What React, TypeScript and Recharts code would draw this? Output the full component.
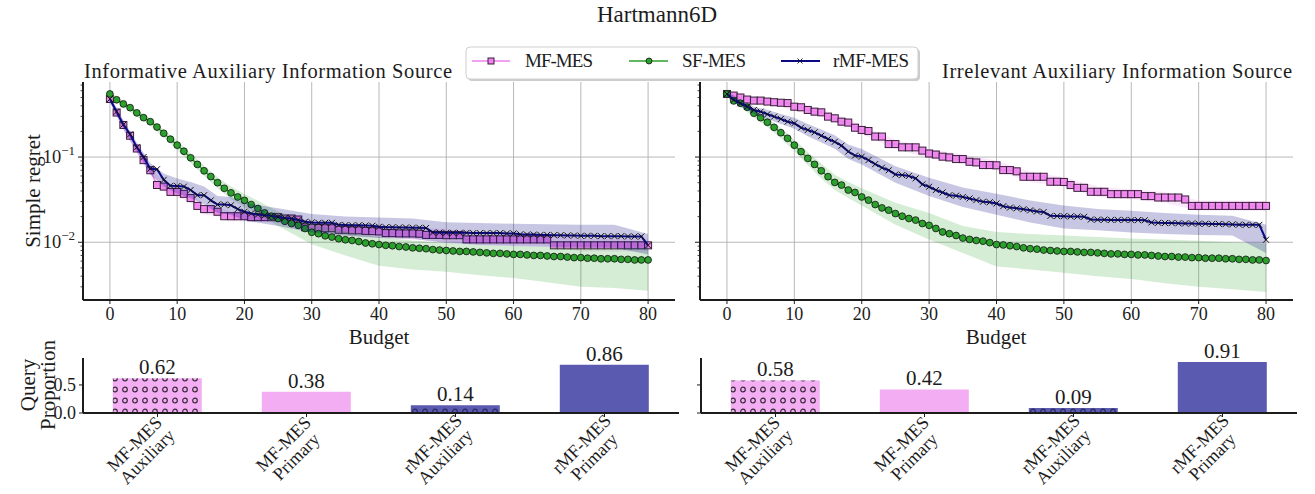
import {
  Area,
  Bar,
  BarChart,
  CartesianGrid,
  Cell,
  ComposedChart,
  LabelList,
  Line,
  XAxis,
  YAxis,
} from "recharts";

const FONT = "'Liberation Serif', 'Times New Roman', serif";
const INK = "#1c1c1c";
const VIOLET = "#ee82ee";
const GREEN = "#2ca02c";
const NAVY = "#0a0a88";
const PINK_BAR = "#f3aef3";
const BLUE_BAR = "#5a5ab0";

// budget steps 0..80
const budget = Array.from({ length: 81 }, (_, i) => i);
const budgetTicks = [0, 10, 20, 30, 40, 50, 60, 70, 80];
const regretTicks = [
  0.003, 0.004, 0.005, 0.006, 0.007, 0.008, 0.009, 0.01,
  0.02, 0.03, 0.04, 0.05, 0.06, 0.07, 0.08, 0.09, 0.1,
  0.2, 0.3, 0.4, 0.5, 0.6, 0.7,
];

// informative auxiliary source
const mfLeft = [
  0.48, 0.333, 0.238, 0.178, 0.126, 0.092, 0.07, 0.047, 0.045, 0.039,
  0.039, 0.037, 0.033, 0.0267, 0.0245, 0.0245, 0.0228, 0.0202, 0.0202, 0.0202,
  0.0202, 0.0197, 0.0197, 0.0197, 0.0197, 0.0197, 0.019, 0.019, 0.0185, 0.015,
  0.0148, 0.0147, 0.0146, 0.0146, 0.014, 0.014, 0.0138, 0.0138, 0.0136, 0.0135,
  0.0134, 0.0128, 0.0128, 0.0127, 0.0127, 0.0127, 0.0126, 0.0122, 0.0122, 0.0122,
  0.0121, 0.0121, 0.0121, 0.0108, 0.0108, 0.0108, 0.0108, 0.0108, 0.0108, 0.0108,
  0.0108, 0.0108, 0.0108, 0.0108, 0.0108, 0.0108, 0.0092, 0.0092, 0.0092, 0.0092,
  0.0092, 0.0092, 0.0092, 0.0092, 0.0092, 0.0092, 0.0092, 0.0092, 0.0092, 0.0092,
  0.0092,
];
const sfLeft = [
  0.55, 0.47, 0.42, 0.38, 0.33, 0.29, 0.26, 0.225, 0.19, 0.162,
  0.138, 0.117, 0.098, 0.082, 0.069, 0.059, 0.05, 0.043, 0.038, 0.034,
  0.031, 0.0277, 0.0249, 0.0221, 0.0202, 0.019, 0.0176, 0.0166, 0.0158, 0.0145,
  0.0131, 0.0126, 0.0119, 0.0115, 0.011, 0.0107, 0.0105, 0.0102, 0.0098, 0.0096,
  0.0094, 0.0092, 0.0091, 0.0089, 0.0088, 0.0086, 0.0085, 0.0084, 0.0082, 0.0081,
  0.008, 0.0079, 0.0078, 0.0078, 0.0077, 0.0076, 0.0075, 0.0074, 0.0074, 0.0073,
  0.0072, 0.0072, 0.0071, 0.007, 0.007, 0.0069, 0.0068, 0.0068, 0.0067, 0.0066,
  0.0066, 0.0065, 0.0065, 0.0064, 0.0064, 0.0064, 0.0063, 0.0063, 0.0062, 0.0062,
  0.0062,
];
const rmfLeft = [
  0.48, 0.34, 0.24, 0.185, 0.13, 0.1, 0.073, 0.072, 0.054, 0.046,
  0.0456, 0.045, 0.041, 0.0357, 0.0357, 0.031, 0.0277, 0.0277, 0.0272, 0.0245,
  0.0228, 0.0218, 0.0211, 0.0207, 0.0204, 0.0198, 0.0193, 0.019, 0.0182, 0.0174,
  0.0171, 0.0169, 0.0169, 0.0169, 0.016, 0.0159, 0.0158, 0.0158, 0.0157, 0.0156,
  0.0152, 0.015, 0.015, 0.0149, 0.0149, 0.0148, 0.0148, 0.0147, 0.013, 0.013,
  0.0129, 0.0129, 0.0129, 0.0129, 0.0128, 0.0128, 0.0128, 0.0128, 0.0128, 0.0127,
  0.0127, 0.0124, 0.0123, 0.0123, 0.0122, 0.0122, 0.0121, 0.0121, 0.012, 0.012,
  0.0119, 0.0119, 0.0119, 0.0118, 0.0118, 0.0118, 0.0118, 0.0117, 0.0117, 0.0117,
  0.0092,
];

// irrelevant auxiliary source
const mfRight = [
  0.55, 0.527, 0.5, 0.473, 0.46, 0.46, 0.448, 0.44, 0.434, 0.43,
  0.39, 0.384, 0.357, 0.341, 0.335, 0.298, 0.285, 0.26, 0.254, 0.221,
  0.208, 0.202, 0.174, 0.174, 0.142, 0.142, 0.13, 0.13, 0.13, 0.119,
  0.11, 0.107, 0.101, 0.099, 0.0947, 0.0947, 0.088, 0.0865, 0.0805, 0.0805,
  0.08, 0.0703, 0.0703, 0.068, 0.0587, 0.0587, 0.0587, 0.0587, 0.0513, 0.0513,
  0.051, 0.0469, 0.0435, 0.0435, 0.0391, 0.0391, 0.0391, 0.0367, 0.0367, 0.0367,
  0.0367, 0.0367, 0.0348, 0.0348, 0.0335, 0.0335, 0.0335, 0.0335, 0.0318, 0.0267,
  0.0267, 0.0267, 0.0267, 0.0267, 0.0267, 0.0267, 0.0267, 0.0267, 0.0267, 0.0267,
  0.0267,
];
const sfRight = [
  0.55, 0.456, 0.428, 0.384, 0.327, 0.29, 0.256, 0.223, 0.193, 0.166,
  0.138, 0.1156, 0.0965, 0.082, 0.069, 0.0588, 0.0504, 0.0469, 0.041, 0.0384,
  0.034, 0.0312, 0.0277, 0.0253, 0.0238, 0.0217, 0.0202, 0.019, 0.0182, 0.0166,
  0.0158, 0.0145, 0.0132, 0.0126, 0.012, 0.0112, 0.0108, 0.0105, 0.0103, 0.0099,
  0.0094, 0.0093, 0.0091, 0.0089, 0.0086, 0.0084, 0.0083, 0.0081, 0.008, 0.0079,
  0.0078, 0.0078, 0.0077, 0.0076, 0.0076, 0.0075, 0.0074, 0.0073, 0.0073, 0.0072,
  0.0072, 0.0071, 0.0071, 0.007, 0.0069, 0.0068, 0.0068, 0.0067, 0.0067, 0.0066,
  0.0066, 0.0065, 0.0065, 0.0065, 0.0064, 0.0064, 0.0063, 0.0063, 0.0062, 0.0062,
  0.0061,
];
const rmfRight = [
  0.55, 0.469, 0.428, 0.39, 0.357, 0.341, 0.318, 0.298, 0.28, 0.26,
  0.249, 0.221, 0.208, 0.195, 0.178, 0.163, 0.151, 0.136, 0.116, 0.104,
  0.101, 0.092, 0.0827, 0.075, 0.07, 0.0625, 0.0614, 0.06, 0.0562, 0.0478,
  0.0448, 0.041, 0.0384, 0.0357, 0.0352, 0.034, 0.0327, 0.0312, 0.0299, 0.0295,
  0.0285, 0.0265, 0.0255, 0.025, 0.0244, 0.0237, 0.023, 0.0226, 0.0204, 0.0203,
  0.0202, 0.0201, 0.02, 0.0199, 0.0185, 0.0184, 0.0184, 0.0183, 0.0183, 0.0183,
  0.0182, 0.0182, 0.0181, 0.0171, 0.0169, 0.0168, 0.0168, 0.0167, 0.0166, 0.0166,
  0.0165, 0.0165, 0.0164, 0.0164, 0.0163, 0.0162, 0.0161, 0.016, 0.016, 0.016,
  0.0107,
];

// shaded bands, read at these budgets
const bandBudget = [0, 2, 4, 6, 8, 10, 12, 14, 16, 18, 20, 25, 30, 35, 40, 45, 50, 55, 60, 65, 70, 75, 80];

const mfLeftLo = [0.44, 0.21, 0.11, 0.062, 0.039, 0.034, 0.029, 0.021, 0.02, 0.0175, 0.0175, 0.017, 0.0125, 0.0118, 0.0113, 0.0107, 0.0102, 0.0092, 0.0092, 0.0091, 0.0078, 0.0078, 0.0078];
const mfLeftHi = [0.52, 0.27, 0.14, 0.078, 0.051, 0.045, 0.038, 0.028, 0.026, 0.023, 0.023, 0.0225, 0.0175, 0.0163, 0.0158, 0.015, 0.0143, 0.0128, 0.0128, 0.0127, 0.011, 0.011, 0.0109];
const sfLeftLo = [0.52, 0.39, 0.3, 0.235, 0.17, 0.122, 0.086, 0.06, 0.043, 0.032, 0.026, 0.0155, 0.0095, 0.007, 0.0053, 0.0048, 0.0045, 0.0041, 0.0038, 0.0034, 0.003, 0.0029, 0.0027];
const sfLeftHi = [0.58, 0.45, 0.36, 0.285, 0.21, 0.155, 0.11, 0.079, 0.058, 0.045, 0.037, 0.023, 0.0165, 0.0135, 0.0115, 0.0105, 0.0098, 0.0093, 0.009, 0.0088, 0.0087, 0.0086, 0.0085];
const rmfLeftLo = [0.44, 0.21, 0.115, 0.063, 0.045, 0.037, 0.033, 0.028, 0.022, 0.021, 0.018, 0.0155, 0.013, 0.012, 0.0112, 0.011, 0.0098, 0.0093, 0.009, 0.0088, 0.0087, 0.0086, 0.0072];
const rmfLeftHi = [0.52, 0.27, 0.147, 0.085, 0.064, 0.056, 0.051, 0.045, 0.035, 0.034, 0.029, 0.025, 0.0215, 0.02, 0.0195, 0.019, 0.0172, 0.0168, 0.0165, 0.0163, 0.0161, 0.016, 0.0125];

const mfRightLo = [0.5, 0.46, 0.42, 0.41, 0.39, 0.35, 0.32, 0.3, 0.255, 0.225, 0.185, 0.125, 0.097, 0.083, 0.07, 0.051, 0.045, 0.034, 0.032, 0.029, 0.0235, 0.0235, 0.0232];
const mfRightHi = [0.6, 0.55, 0.5, 0.49, 0.47, 0.43, 0.4, 0.37, 0.315, 0.285, 0.235, 0.16, 0.125, 0.107, 0.091, 0.067, 0.058, 0.045, 0.042, 0.039, 0.031, 0.031, 0.0305];
const sfRightLo = [0.52, 0.39, 0.29, 0.225, 0.165, 0.118, 0.08, 0.056, 0.041, 0.033, 0.027, 0.016, 0.0108, 0.0075, 0.0052, 0.0048, 0.0044, 0.004, 0.0037, 0.0033, 0.003, 0.0028, 0.0026];
const sfRightHi = [0.58, 0.46, 0.36, 0.285, 0.22, 0.16, 0.115, 0.084, 0.062, 0.051, 0.043, 0.029, 0.022, 0.0155, 0.0132, 0.0125, 0.012, 0.0115, 0.0111, 0.0108, 0.0104, 0.01, 0.0097];
const rmfRightLo = [0.51, 0.39, 0.32, 0.28, 0.245, 0.215, 0.175, 0.148, 0.125, 0.095, 0.082, 0.05, 0.035, 0.026, 0.021, 0.017, 0.0145, 0.0138, 0.013, 0.0125, 0.0122, 0.012, 0.0075];
const rmfRightHi = [0.59, 0.47, 0.39, 0.36, 0.32, 0.29, 0.245, 0.21, 0.18, 0.14, 0.124, 0.078, 0.057, 0.044, 0.037, 0.031, 0.027, 0.0245, 0.0235, 0.022, 0.021, 0.0205, 0.016];

// query proportions
const queryCategories = ["MF-MES\nAuxiliary", "MF-MES\nPrimary", "rMF-MES\nAuxiliary", "rMF-MES\nPrimary"];
const queryLeft = [0.62, 0.38, 0.14, 0.86];
const queryRight = [0.58, 0.42, 0.09, 0.91];

const toRows = (mf: number[], sf: number[], rmf: number[]) =>
  budget.map((b, i) => ({ b, mf: mf[i], sf: sf[i], rmf: rmf[i] }));

const toBands = (lo: number[][], hi: number[][]) =>
  bandBudget.map((b, i) => ({
    b,
    mf: [lo[0][i], hi[0][i]],
    sf: [lo[1][i], hi[1][i]],
    rmf: [lo[2][i], hi[2][i]],
  }));

const leftRows = toRows(mfLeft, sfLeft, rmfLeft);
const rightRows = toRows(mfRight, sfRight, rmfRight);
const leftBands = toBands([mfLeftLo, sfLeftLo, rmfLeftLo], [mfLeftHi, sfLeftHi, rmfLeftHi]);
const rightBands = toBands([mfRightLo, sfRightLo, rmfRightLo], [mfRightHi, sfRightHi, rmfRightHi]);

const squareDot = (p: any) => (
  <rect
    key={`sq-${p.index}`}
    x={p.cx - 3.5}
    y={p.cy - 3.5}
    width={7}
    height={7}
    fill={VIOLET}
    fillOpacity={0.9}
    stroke="#3a1f3a"
    strokeWidth={1}
  />
);

const circleDot = (p: any) => (
  <circle key={`ci-${p.index}`} cx={p.cx} cy={p.cy} r={3.4} fill={GREEN} stroke="#111" strokeWidth={0.8} />
);

const crossDot = (p: any) => (
  <path
    key={`x-${p.index}`}
    d={`M${p.cx - 3},${p.cy - 3}L${p.cx + 3},${p.cy + 3}M${p.cx - 3},${p.cy + 3}L${p.cx + 3},${p.cy - 3}`}
    stroke="#111"
    strokeWidth={1}
  />
);

const LogTick = ({ x, y, payload, showLabel }: any) => {
  const v = payload.value;
  const e = Math.round(Math.log10(v));
  const major = Math.abs(v / Math.pow(10, e) - 1) < 1e-6;
  return (
    <g>
      <line x1={x} x2={x - (major ? 5 : 2.5)} y1={y} y2={y} stroke={INK} strokeWidth={major ? 1 : 0.8} />
      {major && showLabel && (
        <text x={x - 8} y={y + 6} textAnchor="end" fontSize={18.5} fill={INK} fontFamily={FONT}>
          10
          <tspan dy={-8} fontSize={13}>{`\u2212${-e}`}</tspan>
        </text>
      )}
    </g>
  );
};

const CategoryTick = ({ x, y, payload }: any) => {
  const [a, b] = String(payload.value).split("\n");
  return (
    <g transform={`translate(${x},${y})`}>
      <text transform="translate(-16,32) rotate(-45)" textAnchor="middle" fontSize={18} fill={INK} fontFamily={FONT}>
        <tspan x={0} dy={-4}>{a}</tspan>
        <tspan x={0} dy={18}>{b}</tspan>
      </text>
    </g>
  );
};

const CHART_W = 690;
const CHART_H = 300;

// one drawing layer of a regret panel; axes are only visible on the base layer
function RegretLayer({ rows, bands, series, showAxes, showLabels, rightMargin, children }: any) {
  const { key, color, band, bandOpacity, width, dot } = series;
  return (
    <div style={{ position: "absolute", left: 0, top: 0 }}>
      <ComposedChart width={CHART_W} height={CHART_H} data={rows} margin={{ top: 22, right: rightMargin, left: 0, bottom: 0 }}>
        {children}
        <XAxis
          type="number"
          dataKey="b"
          domain={[-4, 84]}
          ticks={budgetTicks}
          interval={0}
          allowDataOverflow
          height={60}
          tickSize={4}
          tickMargin={3}
          axisLine={showAxes ? { stroke: INK, strokeWidth: 2 } : false}
          tickLine={showAxes ? { stroke: INK } : false}
          tick={showAxes ? { fontSize: 18, fill: INK, fontFamily: FONT } : false}
        />
        <YAxis
          type="number"
          scale="log"
          domain={[0.0021, 0.76]}
          allowDataOverflow
          ticks={regretTicks}
          interval={0}
          width={83}
          tickSize={0}
          tickMargin={0}
          tickLine={false}
          axisLine={showAxes ? { stroke: INK, strokeWidth: 2 } : false}
          tick={showAxes ? (p: any) => <LogTick {...p} showLabel={showLabels} /> : false}
        />
        <Area data={bands} dataKey={key} type="linear" stroke="none" fill={band} fillOpacity={bandOpacity} isAnimationActive={false} />
        <Line dataKey={key} type="linear" stroke={color} strokeWidth={width} dot={dot} isAnimationActive={false} />
      </ComposedChart>
    </div>
  );
}

const seriesStyles = [
  { key: "mf", color: VIOLET, band: VIOLET, bandOpacity: 0.2, width: 1.5, dot: squareDot },
  { key: "sf", color: GREEN, band: GREEN, bandOpacity: 0.2, width: 1.5, dot: circleDot },
  { key: "rmf", color: NAVY, band: "#000080", bandOpacity: 0.22, width: 2, dot: crossDot },
];

function RegretPanel({ rows, bands, showLabels, rightMargin }: any) {
  return (
    <div style={{ position: "relative", width: CHART_W, height: CHART_H }}>
      {seriesStyles.map((s, i) => (
        <RegretLayer
          key={s.key}
          rows={rows}
          bands={bands}
          series={s}
          showAxes={i === 0}
          showLabels={showLabels}
          rightMargin={rightMargin}
        >
          {i === 0 && (
            <CartesianGrid stroke="#b0b0b0" strokeWidth={0.9} horizontalValues={[0.01, 0.1]} verticalValues={budgetTicks} />
          )}
        </RegretLayer>
      ))}
    </div>
  );
}

function ProportionPanel({ values, showLabels, rightMargin, idPrefix }: any) {
  const rows = queryCategories.map((name, i) => ({ name, v: values[i] }));
  const fills = [`url(#${idPrefix}-mf)`, PINK_BAR, `url(#${idPrefix}-rmf)`, BLUE_BAR];
  return (
    <BarChart width={690} height={154} data={rows} margin={{ top: 18, right: rightMargin, left: 0, bottom: 0 }} barCategoryGap="20%">
      <defs>
        <pattern id={`${idPrefix}-mf`} width={10} height={11} patternUnits="userSpaceOnUse">
          <rect width={10} height={11} fill={PINK_BAR} />
          <circle cx={5} cy={5.5} r={2.3} fill="none" stroke="#3a2a3a" strokeWidth={1.2} />
        </pattern>
        <pattern id={`${idPrefix}-rmf`} width={10} height={11} patternUnits="userSpaceOnUse">
          <rect width={10} height={11} fill={BLUE_BAR} />
          <circle cx={5} cy={5.5} r={2.3} fill="none" stroke="#2a2a60" strokeWidth={1.2} />
        </pattern>
      </defs>
      <XAxis
        dataKey="name"
        interval={0}
        height={81}
        tickSize={4}
        tickMargin={2}
        axisLine={{ stroke: INK, strokeWidth: 2 }}
        tickLine={{ stroke: INK }}
        tick={<CategoryTick />}
      />
      <YAxis
        type="number"
        domain={[0, 0.98]}
        ticks={[0, 0.5]}
        allowDataOverflow
        width={83}
        tickSize={4}
        tickMargin={3}
        axisLine={{ stroke: INK, strokeWidth: 2 }}
        tickLine={{ stroke: INK }}
        tick={{ fontSize: 18, fill: INK, fontFamily: FONT }}
        tickFormatter={(v: number) => (showLabels ? v.toFixed(1) : "")}
      />
      <Bar dataKey="v" isAnimationActive={false}>
        {rows.map((r, i) => (
          <Cell key={r.name} fill={fills[i]} />
        ))}
        <LabelList
          dataKey="v"
          position="top"
          offset={4}
          formatter={(v: any) => Number(v).toFixed(2)}
          style={{ fontSize: 21, fill: INK, fontFamily: FONT }}
        />
      </Bar>
    </BarChart>
  );
}

function Overlay() {
  const txt = { fill: INK, fontFamily: FONT };
  return (
    <svg width={1315} height={494} style={{ position: "absolute", left: 0, top: 0, pointerEvents: "none" }}>
      <text x={657} y={22} textAnchor="middle" fontSize={23} {...txt}>Hartmann6D</text>
      <text x={84} y={78} fontSize={20.5} textLength={368} {...txt}>Informative Auxiliary Information Source</text>
      <text x={1292} y={78} textAnchor="end" fontSize={20.5} textLength={350} {...txt}>Irrelevant Auxiliary Information Source</text>
      <text transform="translate(40,191) rotate(-90)" textAnchor="middle" fontSize={21} {...txt}>Simple regret</text>
      <text x={379} y={344} textAnchor="middle" fontSize={21} {...txt}>Budget</text>
      <text x={996} y={344} textAnchor="middle" fontSize={21} {...txt}>Budget</text>
      <text transform="translate(35,385) rotate(-90)" textAnchor="middle" fontSize={21} {...txt}>Query</text>
      <text transform="translate(55,385) rotate(-90)" textAnchor="middle" fontSize={21} {...txt}>Proportion</text>

      {/* legend */}
      <rect x={468} y={49} width={452} height={32} rx={4} fill="#999" fillOpacity={0.5} />
      <rect x={466} y={47} width={452} height={32} rx={4} fill="#fff" stroke="#cfcfcf" />
      <line x1={472} x2={510} y1={61} y2={61} stroke={VIOLET} strokeWidth={1.5} />
      <rect x={488} y={58} width={6} height={6} fill={VIOLET} stroke="#3a1f3a" strokeWidth={1} />
      <text x={525} y={67} fontSize={19} textLength={68} {...txt}>MF-MES</text>
      <line x1={629} x2={668} y1={61} y2={61} stroke={GREEN} strokeWidth={1.5} />
      <circle cx={649} cy={61} r={3} fill={GREEN} stroke="#111" strokeWidth={0.8} />
      <text x={682} y={67} fontSize={19} textLength={64} {...txt}>SF-MES</text>
      <line x1={781} x2={820} y1={61} y2={61} stroke={NAVY} strokeWidth={2} />
      <path d="M797.5,58.5L802.5,63.5M797.5,63.5L802.5,58.5" stroke="#111" strokeWidth={0.9} />
      <text x={833} y={67} fontSize={19} textLength={76} {...txt}>rMF-MES</text>
    </svg>
  );
}

export default function App() {
  return (
    <div style={{ position: "absolute", left: 0, top: 0, width: 1315, height: 494, background: "#fff", fontFamily: FONT }}>
      <div style={{ position: "absolute", left: 0, top: 60 }}>
        <RegretPanel rows={leftRows} bands={leftBands} showLabels rightMargin={15} />
      </div>
      <div style={{ position: "absolute", left: 617, top: 60 }}>
        <RegretPanel rows={rightRows} bands={rightBands} showLabels={false} rightMargin={14} />
      </div>
      <div style={{ position: "absolute", left: 0, top: 340 }}>
        <ProportionPanel values={queryLeft} showLabels rightMargin={11} idPrefix="qa" />
      </div>
      <div style={{ position: "absolute", left: 618, top: 340 }}>
        <ProportionPanel values={queryRight} showLabels={false} rightMargin={11} idPrefix="qb" />
      </div>
      <Overlay />
    </div>
  );
}
